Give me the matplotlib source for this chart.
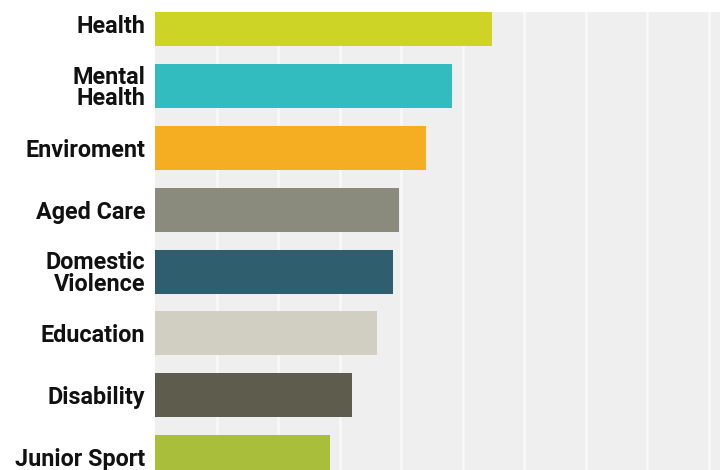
import matplotlib
matplotlib.use("Agg")
import matplotlib.pyplot as plt

categories = ["Health", "Mental\nHealth", "Enviroment", "Aged Care",
              "Domestic\nViolence", "Education", "Disability", "Junior Sport"]
values = [27.4, 24.1, 22.0, 19.8, 19.3, 18.0, 16.0, 14.2]
colors = ["#cdd426", "#33bcbf", "#f5ae22", "#8a8b7c",
          "#2f5f6e", "#d1cec2", "#5e5c4d", "#a9be3b"]
grid_ticks = [5, 10, 15, 20, 25, 30, 35, 40, 45]

fig = plt.figure(figsize=(7.2, 4.7), dpi=100)
ax = fig.add_axes([155 / 720, 0, 565 / 720, 458 / 470])
ax.set_facecolor("#efefef")

ypos = list(range(len(categories)))
ax.barh(ypos, values, height=0.71, color=colors, zorder=3)

ax.set_xlim(0, 45.9)
ax.set_ylim(7.21, -0.20)
ax.set_xticks(grid_ticks)
ax.set_xticklabels([])
ax.tick_params(axis="x", length=0)
ax.grid(axis="x", color="#f9f9f9", linewidth=1.8, zorder=1)
ax.set_axisbelow(True)

ax.set_yticks(ypos)
ax.set_yticklabels(categories, fontsize=16.8, fontweight="bold",
                   family=["Roboto", "DejaVu Sans"], color="#111111",
                   linespacing=0.92)
ax.tick_params(axis="y", length=0, pad=7)

for s in ax.spines.values():
    s.set_visible(False)

fig.savefig("out.png", dpi=100, facecolor="white")
